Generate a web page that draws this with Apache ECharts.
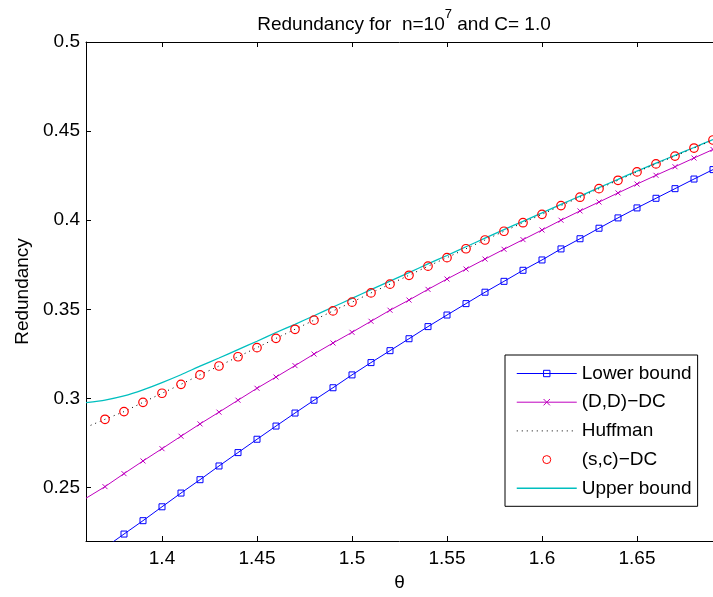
<!DOCTYPE html>
<html>
<head>
<meta charset="utf-8">
<script src="https://cdn.jsdelivr.net/npm/echarts@6/dist/echarts.min.js"></script>
<style>html,body{margin:0;padding:0;background:#fff;}#c{width:713px;height:597px;}</style>
</head>
<body>
<div id="c"></div>
<script>
// theta grid (every 0.01)
const theta = [1.36,1.37,1.38,1.39,1.40,1.41,1.42,1.43,1.44,1.45,1.46,1.47,1.48,1.49,1.50,1.51,1.52,1.53,1.54,1.55,1.56,1.57,1.58,1.59,1.60,1.61,1.62,1.63,1.64,1.65,1.66,1.67,1.68,1.69];
const lowerBound = [0.2085,0.2163,0.2239,0.2314,0.2392,0.2469,0.2544,0.2621,0.2696,0.2771,0.2845,0.2918,0.2990,0.3060,0.3132,0.3201,0.3268,0.3335,0.3403,0.3468,0.3532,0.3596,0.3657,0.3719,0.3777,0.3839,0.3896,0.3955,0.4013,0.4069,0.4123,0.4177,0.4231,0.4284];
const ddDC = [0.2440,0.2505,0.2578,0.2649,0.2718,0.2788,0.2857,0.2923,0.2990,0.3057,0.3120,0.3184,0.3249,0.3311,0.3371,0.3433,0.3495,0.3552,0.3612,0.3670,0.3726,0.3782,0.3837,0.3891,0.3945,0.4000,0.4052,0.4102,0.4153,0.4203,0.4252,0.4300,0.4349,0.4397];
const huffman = [0.2838,0.2883,0.2926,0.2978,0.3029,0.3079,0.3132,0.3182,0.3234,0.3285,0.3337,0.3388,0.3439,0.3491,0.3540,0.3592,0.3641,0.3691,0.3742,0.3790,0.3840,0.3889,0.3938,0.3986,0.4033,0.4082,0.4129,0.4177,0.4224,0.4271,0.4316,0.4360,0.4405,0.4450];
const thetaSC = [1.37,1.38,1.39,1.40,1.41,1.42,1.43,1.44,1.45,1.46,1.47,1.48,1.49,1.50,1.51,1.52,1.53,1.54,1.55,1.56,1.57,1.58,1.59,1.60,1.61,1.62,1.63,1.64,1.65,1.66,1.67,1.68,1.69];
const scDC = [0.2883,0.2926,0.2978,0.3029,0.3079,0.3132,0.3182,0.3234,0.3285,0.3337,0.3388,0.3439,0.3491,0.3540,0.3592,0.3641,0.3691,0.3742,0.3790,0.3840,0.3889,0.3938,0.3986,0.4033,0.4082,0.4129,0.4177,0.4224,0.4271,0.4316,0.4360,0.4405,0.4450];
const upperBound = [0.2976,0.2991,0.3014,0.3048,0.3089,0.3133,0.3181,0.3227,0.3274,0.3321,0.3370,0.3416,0.3464,0.3513,0.3561,0.3611,0.3658,0.3706,0.3755,0.3802,0.3851,0.3899,0.3947,0.3994,0.4041,0.4089,0.4135,0.4183,0.4229,0.4276,0.4320,0.4364,0.4408,0.4453];
const xTicks = [1.4,1.45,1.5,1.55,1.6,1.65];
const yTicks = [0.25,0.3,0.35,0.4,0.45,0.5];
const seriesNames = ['Lower bound','(D,D)\u2212DC','Huffman','(s,c)\u2212DC','Upper bound'];

const FONT = '"Liberation Sans", Arial, Helvetica, sans-serif';
const pair = (xs, ys) => xs.map((x, i) => [x, ys[i]]);
const XPATH = 'path://M0,0L10,10M10,0L0,10';
// the (D,D)-DC marker at the left axis edge is not drawn in the original
const ddData = pair(theta, ddDC).map((p, i) => (i === 0 ? {value: p, symbol: 'none'} : p));
const hideSym = {color: 'rgba(0,0,0,0)', borderColor: 'rgba(0,0,0,0)', borderWidth: 0};

const chart = echarts.init(document.getElementById('c'), null, {renderer: 'canvas'});
const axisCommon = {
  type: 'value', min: 1.36, max: 1.69,
  axisLine: {show: true, lineStyle: {color: '#000', width: 1}},
  splitLine: {show: false},
  axisTick: {show: true, inside: true, length: 5, customValues: xTicks, lineStyle: {color: '#000'}}
};
chart.setOption({
  animation: false,
  backgroundColor: '#fff',
  textStyle: {fontFamily: FONT},
  title: {
    text: '{a|Redundancy for  n=10}{s|7}{a| and C= 1.0}',
    left: 399, top: 3, textAlign: 'center',
    textStyle: {
      fontWeight: 'normal',
      rich: {
        a: {fontSize: 19, fontFamily: FONT, fontWeight: 'normal', color: '#000', lineHeight: 26, verticalAlign: 'bottom'},
        s: {fontSize: 13, fontFamily: FONT, fontWeight: 'normal', color: '#000', lineHeight: 26, verticalAlign: 'top'}
      }
    }
  },
  grid: {left: 86, right: -3.5, top: 42, bottom: 56, containLabel: false},
  xAxis: [
    Object.assign({}, axisCommon, {
      position: 'bottom',
      name: '\u03b8', nameLocation: 'middle', nameGap: 31,
      nameTextStyle: {fontSize: 19, color: '#000', fontFamily: FONT},
      axisLabel: {show: true, customValues: xTicks, fontSize: 19, color: '#000', margin: 8, fontFamily: FONT,
        formatter: v => String(+v.toFixed(2))}
    }),
    Object.assign({}, axisCommon, {position: 'top', axisLabel: {show: false}})
  ],
  yAxis: {
    type: 'value', min: 0.22, max: 0.5,
    name: 'Redundancy', nameLocation: 'middle', nameGap: 52, nameRotate: 90,
    nameTextStyle: {fontSize: 19, color: '#000', fontFamily: FONT},
    axisLine: {show: true, lineStyle: {color: '#000', width: 1}},
    splitLine: {show: false},
    axisTick: {show: true, inside: true, length: 5, customValues: yTicks, lineStyle: {color: '#000'}},
    axisLabel: {show: true, customValues: yTicks, fontSize: 19, color: '#000', margin: 6, fontFamily: FONT,
      formatter: v => String(+v.toFixed(2))}
  },
  legend: {
    orient: 'vertical', left: 505, top: 355,
    padding: [9, 6, 8.5, 11], itemWidth: 60, itemHeight: 8, itemGap: 9.7,
    borderColor: '#000', borderWidth: 1, backgroundColor: '#fff',
    selectedMode: false,
    itemStyle: {borderWidth: 1},
    lineStyle: {width: 1},
    textStyle: {fontSize: 19, color: '#000', fontFamily: FONT},
    data: [
      {name: seriesNames[0]},
      {name: seriesNames[1]},
      {name: seriesNames[2], itemStyle: hideSym},
      {name: seriesNames[3]},
      {name: seriesNames[4], itemStyle: hideSym, lineStyle: {width: 1.5}}
    ]
  },
  series: [
    {
      name: seriesNames[0], type: 'line', data: pair(theta, lowerBound),
      symbol: 'rect', symbolSize: 6, clip: true,
      lineStyle: {color: '#0000ff', width: 1},
      itemStyle: {color: 'rgba(0,0,0,0)', borderColor: '#0000ff', borderWidth: 1},
      z: 3
    },
    {
      name: seriesNames[1], type: 'line', data: ddData,
      symbol: XPATH, symbolSize: 5, clip: true,
      lineStyle: {color: '#bf00bf', width: 1},
      itemStyle: {color: 'rgba(0,0,0,0)', borderColor: '#bf00bf', borderWidth: 1},
      z: 3
    },
    {
      name: seriesNames[2], type: 'line', data: pair(theta, huffman),
      symbol: 'none', clip: true,
      lineStyle: {color: '#000', width: 1, type: [1, 4]},
      itemStyle: {color: '#000'},
      z: 2
    },
    {
      name: seriesNames[3], type: 'scatter', data: pair(thetaSC, scDC),
      symbol: 'circle', symbolSize: 8.5, clip: true,
      itemStyle: {color: 'rgba(0,0,0,0)', borderColor: '#ff0000', borderWidth: 1.2, opacity: 1},
      z: 4
    },
    {
      name: seriesNames[4], type: 'line', data: pair(theta, upperBound),
      symbol: 'none', smooth: 0.2, clip: true,
      lineStyle: {color: '#00bfbf', width: 1.3},
      itemStyle: {color: '#00bfbf'},
      z: 1
    }
  ]
});
</script>
</body>
</html>
